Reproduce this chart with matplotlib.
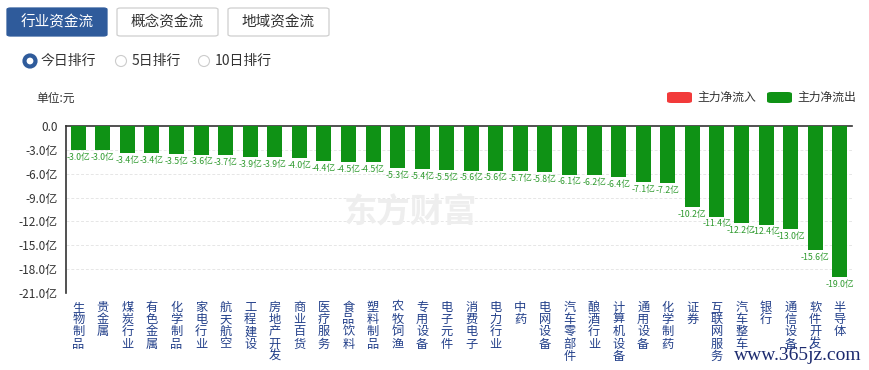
import matplotlib
matplotlib.use("Agg")
import matplotlib.pyplot as plt
from matplotlib.patches import FancyBboxPatch, Circle

plt.rcParams['font.family'] = ['Noto Sans CJK SC', 'DejaVu Sans']

categories = ["生物制品", "贵金属", "煤炭行业", "有色金属", "化学制品", "家电行业", "航天航空",
              "工程建设", "房地产开发", "商业百货", "医疗服务", "食品饮料", "塑料制品", "农牧饲渔",
              "专用设备", "电子元件", "消费电子", "电力行业", "中药", "电网设备", "汽车零部件",
              "酿酒行业", "计算机设备", "通用设备", "化学制药", "证券", "互联网服务", "汽车整车",
              "银行", "通信设备", "软件开发", "半导体"]
values = [-3.0, -3.0, -3.4, -3.4, -3.5, -3.6, -3.7, -3.9, -3.9, -4.0, -4.4, -4.5, -4.5, -5.3,
          -5.4, -5.5, -5.6, -5.6, -5.7, -5.8, -6.1, -6.2, -6.4, -7.1, -7.2, -10.2, -11.4, -12.2,
          -12.4, -13.0, -15.6, -19.0]
yticks = [0, -3, -6, -9, -12, -15, -18, -21]
tabs = ["行业资金流", "概念资金流", "地域资金流"]
radios = ["今日排行", "5日排行", "10日排行"]
legend_labels = ["主力净流入", "主力净流出"]

W, H = 870, 370
fig = plt.figure(figsize=(W / 100, H / 100), dpi=100)
fig.patch.set_facecolor("white")

GREEN = "#0f9215"
RED = "#f23a3a"
BLUE = "#2f5b9b"
LABEL_BLUE = "#23408a"

def fx(px):
    return px / W

def fy(py):
    return 1 - py / H

# plot area
ax = fig.add_axes([fx(66), fy(293), fx(852) - fx(66), fy(126) - fy(293)])
x = list(range(len(categories)))
ax.bar(x, values, width=0.61, color=GREEN, zorder=3)
ax.set_xlim(-0.5, len(categories) - 0.5)
ax.set_ylim(-21, 0)
ax.set_yticks(yticks)
ax.set_yticklabels(["0.0" if v == 0 else f"{v:.1f}亿" for v in yticks],
                   fontsize=8.5, color="#333333")
ax.tick_params(axis="y", length=0, pad=6)
ax.set_xticks([])
for v in yticks[1:]:
    ax.axhline(v, color="#e6e6e6", lw=0.7, ls=(0, (3, 2)), zorder=0)
for s in ["right", "bottom"]:
    ax.spines[s].set_visible(False)
ax.spines["left"].set_color("#333333")
ax.spines["left"].set_linewidth(1.2)
ax.spines["top"].set_color("#333333")
ax.spines["top"].set_linewidth(1.2)

# value labels
for xi, v in zip(x, values):
    ax.annotate(f"{v:.1f}亿", (xi, v), xytext=(0, -2), textcoords="offset points",
                ha="center", va="top", fontsize=6.3, color="#2e9a2e", zorder=4)

# category labels (stacked vertical characters)
for xi, c in zip(x, categories):
    ax.annotate("\n".join(c), (xi, -21), xytext=(0, -5.5), textcoords="offset points",
                ha="center", va="top", fontsize=8.8, color=LABEL_BLUE, linespacing=0.93,
                annotation_clip=False)

# watermark
fig.text(fx(410), fy(213), "东方财富", fontsize=24, fontweight="bold", color="#eeeeee",
         ha="center", va="center", zorder=0)

# tabs
tab_x = [(7, 107), (117, 218), (228, 329)]
for i, (t, (x0, x1)) in enumerate(zip(tabs, tab_x)):
    filled = i == 0
    p = FancyBboxPatch((fx(x0), fy(36)), fx(x1 - x0), fy(8) - fy(36),
                       boxstyle="round,pad=0,rounding_size=0.004",
                       transform=fig.transFigure,
                       facecolor=BLUE if filled else "white",
                       edgecolor=BLUE if filled else "#cfcfcf", lw=0.9)
    fig.add_artist(p)
    fig.text(fx((x0 + x1) / 2), fy(22), t, fontsize=10.5,
             color="white" if filled else "#333333", ha="center", va="center")

# radios
radio_x = [(30, 41), (121, 132), (204, 215)]
for i, (r, (cx, tx)) in enumerate(zip(radios, radio_x)):
    if i == 0:
        fig.add_artist(Circle((cx, H - 61), 5.5, transform=None, facecolor="white",
                              edgecolor=BLUE, lw=3.0))
    else:
        fig.add_artist(Circle((cx, H - 61), 5.5, transform=None, facecolor="white",
                              edgecolor="#cccccc", lw=0.8))
    fig.text(fx(tx), fy(61), r, fontsize=10, color="#333333", ha="left", va="center")

fig.text(fx(36), fy(98), "单位:元", fontsize=8.5, color="#333333", ha="left", va="center")

# legend
for (x0, col, lab) in [(667, RED, legend_labels[0]), (767, GREEN, legend_labels[1])]:
    p = FancyBboxPatch((fx(x0), fy(103)), fx(25), fy(92) - fy(103),
                       boxstyle="round,pad=0,rounding_size=0.005",
                       transform=fig.transFigure, facecolor=col, edgecolor="none")
    fig.add_artist(p)
    fig.text(fx(x0 + 30), fy(97.5), lab, fontsize=8.5, color="#333333",
             ha="left", va="center")

fig.text(fx(862), fy(356), "www.365jz.com", fontsize=14, family="Liberation Serif",
         color="#1c2a6e", ha="right", va="center")

fig.savefig("out.png", dpi=100)
